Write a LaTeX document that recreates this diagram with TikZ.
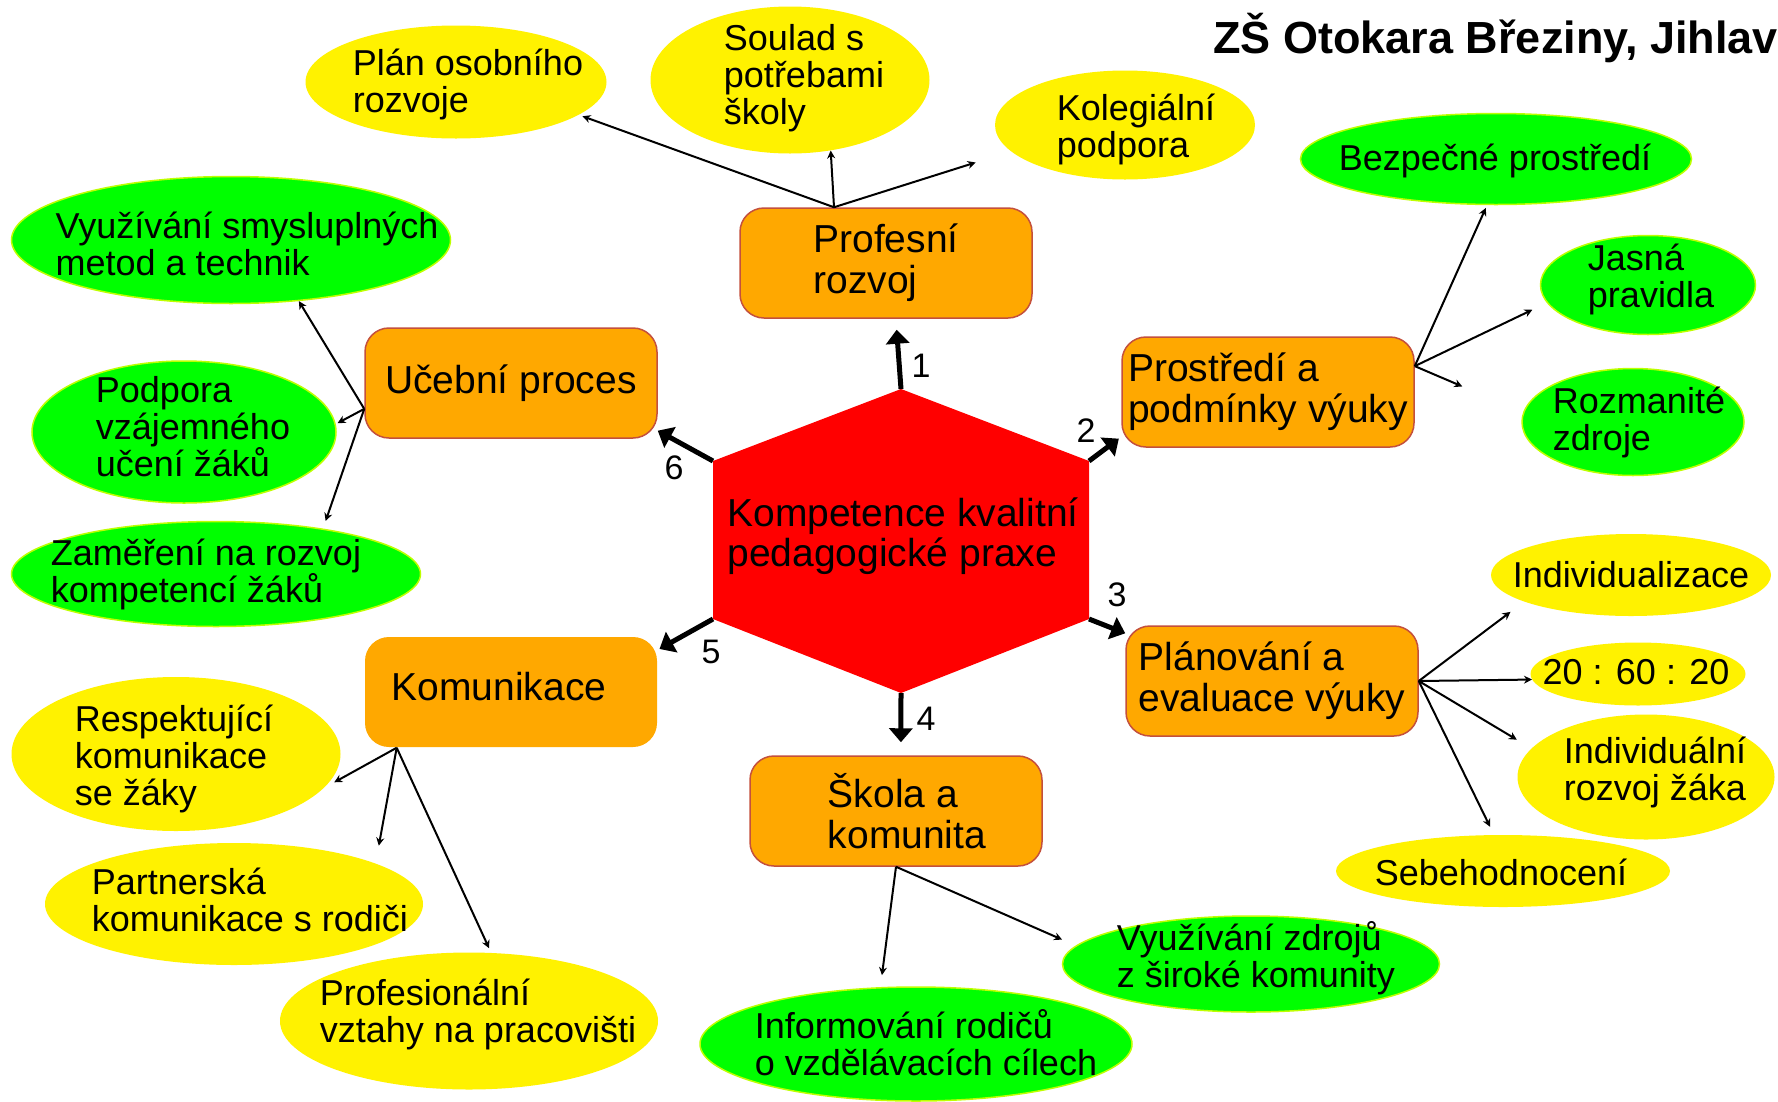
\documentclass[tikz,border=0pt]{standalone}
\usepackage{fontspec}
\setmainfont{Liberation Sans}
\usetikzlibrary{arrows.meta,shapes.geometric}

\definecolor{boxfill}{RGB}{255,168,0}
\definecolor{boxline}{RGB}{196,80,60}
\definecolor{grnline}{RGB}{190,255,0}

\tikzset{
  topic/.style={draw=boxline,line width=1.5pt,fill=boxfill,rounded corners=24pt,
    minimum width=292pt,minimum height=110pt,inner sep=0pt,align=left,
    font=\fontsize{39}{41}\selectfont},
  yel/.style={ellipse,fill=yellow,inner sep=0pt},
  grn/.style={ellipse,fill=green,draw=grnline,line width=1.5pt,inner sep=0pt},
  txt/.style={align=left,inner sep=0pt,font=\fontsize{36}{37}\selectfont},
  num/.style={inner sep=0pt,font=\fontsize{34}{34}\selectfont},
  main/.style={line width=5pt,-{Triangle[width=23pt,length=14pt]}},
  sub/.style={line width=2pt,-{Stealth[width=8pt,length=8pt]}}
}

\begin{document}
\begin{tikzpicture}[x=1pt,y=-1pt]
\fill[white] (0,0) rectangle (1778,1101);
\useasboundingbox (0,0) rectangle (1778,1101);

% title
\node[anchor=base east,inner sep=0pt,font=\fontsize{45}{45}\selectfont\bfseries]
  (title) at (1778,53) {ZŠ Otokara Březiny, Jihlav};

% hexagon
\coordinate (hv1) at (901,389);
\coordinate (hv2) at (1089,461);
\coordinate (hv3) at (1089,619);
\coordinate (hv4) at (901,693);
\coordinate (hv5) at (713,619);
\coordinate (hv6) at (713,461);
\fill[red] (hv1) -- (hv2) -- (hv3) -- (hv4) -- (hv5) -- (hv6) -- cycle;
\node[align=left,inner sep=0pt,font=\fontsize{39}{40}\selectfont]
  (comp) at (903,536) {Kompetence kvalitní\\pedagogické praxe};

% six areas
\node[topic] (prof) at (886,263) {Profesní\\rozvoj};
\node[topic] (pros) at (1268,392) {Prostředí a\\podmínky výuky};
\node[topic] (plan) at (1272,681) {Plánování a\\evaluace výuky};
\node[topic] (skola) at (896,811) {\hspace*{22pt}Škola a\\\hspace*{22pt}komunita};
\node[topic,draw=none] (kom) at (511,692) {\raisebox{12pt}{Komunikace}\hspace*{24pt}};
\node[topic] (uceb) at (511,383) {Učební proces};

\draw[main,shorten >=11pt] (hv1) -- (prof.280);
\draw[main,shorten >=3pt] (hv2) -- (pros.197);
\draw[main] (hv3) -- (plan.162);
\draw[main,shorten >=13pt] (hv4) -- (skola.85);
\draw[main,shorten >=2pt] (hv5) -- (kom.16);
\draw[main] (hv6) -- (uceb.342);

\node[num] (n1) at (921,366) {1};
\node[num] (n2) at (1086,431) {2};
\node[num] (n3) at (1117,595) {3};
\node[num] (n4) at (926,719) {4};
\node[num] (n5) at (711,652) {5};
\node[num] (n6) at (674,468) {6};

% profesni rozvoj
\node[yel,minimum width=301pt,minimum height=113pt] (plano) at (456,82) {};
\node[txt] (plano-t) at (468,84) {Plán osobního\\rozvoje};
\node[yel,minimum width=279pt,minimum height=147pt] (soul) at (790,80) {};
\node[txt] (soul-t) at (804,78) {Soulad s\\potřebami\\školy};
\node[yel,minimum width=260pt,minimum height=109pt] (koleg) at (1125,125) {};
\node[txt] (koleg-t) at (1136,129) {Kolegiální\\podpora};

% prostredi
\node[grn,minimum width=391pt,minimum height=91pt] (bezp) at (1496,159) {};
\node[txt] (bezp-t) at (1495,161) {Bezpečné prostředí};
\node[grn,minimum width=215pt,minimum height=99pt] (jasna) at (1648,285) {};
\node[txt] (jasna-t) at (1651,279) {Jasná\\pravidla};
\node[grn,minimum width=222pt,minimum height=107pt] (rozm) at (1633,422) {};
\node[txt] (rozm-t) at (1639,422) {Rozmanité\\zdroje};

% planovani
\node[yel,minimum width=280pt,minimum height=82pt] (indz) at (1631,575) {};
\node[txt] (indz-t) at (1631,575) {Individualizace};
\node[yel,minimum width=215pt,minimum height=63pt] (ratio) at (1638,674) {};
\node[txt] (ratio-t) at (1636,672) {20 : 60 : 20};
\node[yel,minimum width=257pt,minimum height=125pt] (indr) at (1646,777) {};
\node[txt] (indr-t) at (1655,772) {Individuální\\rozvoj žáka};
\node[yel,minimum width=334pt,minimum height=72pt] (sebe) at (1503,871) {};
\node[txt] (sebe-t) at (1501,872) {Sebehodnocení};

% skola a komunita
\node[grn,minimum width=377pt,minimum height=96pt] (zdroj) at (1251,964) {};
\node[txt] (zdroj-t) at (1256,958) {Využívání zdrojů\\z široké komunity};
\node[grn,minimum width=432pt,minimum height=114pt] (info) at (916,1044) {};
\node[txt] (info-t) at (926,1043) {Informování rodičů\\o vzdělávacích cílech};

% komunikace
\node[yel,minimum width=329pt,minimum height=154pt] (resp) at (176,754) {};
\node[txt] (resp-t) at (174,759) {Respektující\\komunikace\\se žáky};
\node[yel,minimum width=378pt,minimum height=122pt] (partn) at (234,904) {};
\node[txt] (partn-t) at (250,900) {Partnerská\\komunikace s rodiči};
\node[yel,minimum width=378pt,minimum height=137pt] (profv) at (469,1021) {};
\node[txt] (profv-t) at (478,1014) {Profesionální\\vztahy na pracovišti};

% ucebni proces
\node[grn,minimum width=439pt,minimum height=127pt] (metody) at (231,240) {};
\node[txt] (metody-t) at (247,244) {Využívání smysluplných\\metod a technik};
\node[grn,minimum width=304pt,minimum height=142pt] (podp) at (184,432) {};
\node[txt] (podp-t) at (193,427) {Podpora\\vzájemného\\učení žáků};
\node[grn,minimum width=409pt,minimum height=105pt] (zamer) at (216,574) {};
\node[txt] (zamer-t) at (206,574) {Zaměření na rozvoj\\kompetencí žáků};

% fans
\coordinate (profFan) at (prof.133);
\coordinate (prosFan) at (pros.10);
\coordinate (planFan) at (plan.0);
\coordinate (skolaFan) at (skola.270);
\coordinate (komFan) at (kom.206);
\coordinate (ucebFan) at (uceb.190);

\foreach \a/\b/\s in {profFan/plano.345/4pt, profFan/soul.300/0pt, profFan/koleg.193/37pt,
    prosFan/bezp.259/3pt, prosFan/jasna.190/16pt, prosFan/rozm.175/66pt,
    planFan/indz.194/17pt, planFan/ratio.183/0pt, planFan/indr.166/17pt, planFan/sebe.104/9pt,
    skolaFan/info.122/12pt, skolaFan/zdroj.174/15pt,
    komFan/resp.347/12pt, komFan/partn.16/18pt, komFan/profv.72/5pt,
    ucebFan/metody.318/0pt, ucebFan/podp.3/2pt, ucebFan/zamer.23/8pt}
  \draw[sub,shorten >=\s] (\a) -- (\b);
\end{tikzpicture}
\end{document}
